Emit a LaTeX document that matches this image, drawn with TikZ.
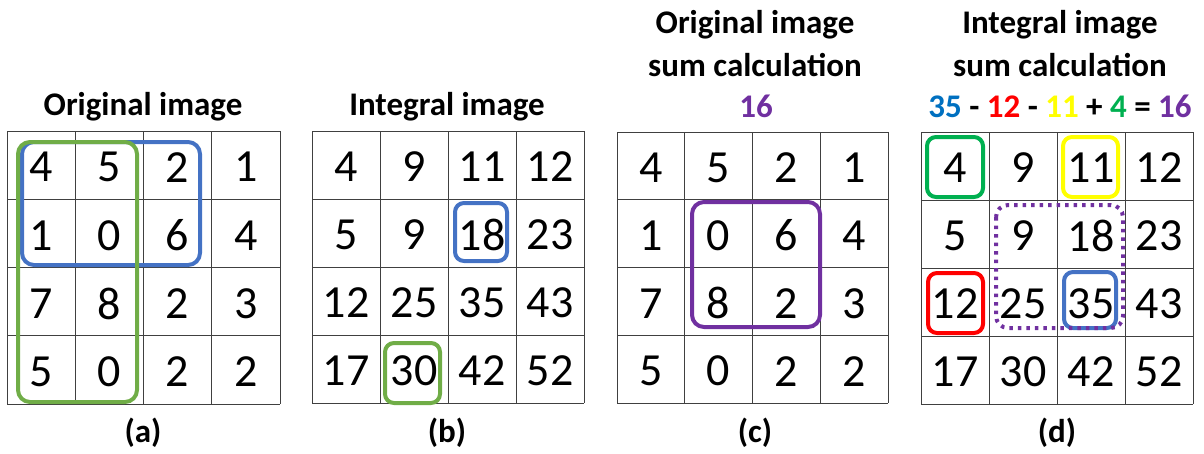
\documentclass[tikz,border=0pt]{standalone}
\usepackage{fontspec}
\setmainfont{Carlito}
\definecolor{oblue}{RGB}{68,114,196}
\definecolor{ogreen}{RGB}{112,173,71}
\definecolor{opurple}{RGB}{112,48,160}
\definecolor{tblue}{RGB}{0,112,192}
\definecolor{tgreen}{RGB}{0,176,80}
\definecolor{tred}{RGB}{255,0,0}
\definecolor{tyellow}{RGB}{255,255,0}
\begin{document}
\begin{tikzpicture}[x=1pt,y=-1pt,
  num/.style={font=\fontsize{46}{46}\selectfont, inner sep=0pt, anchor=center},
  ttl/.style={font=\fontsize{33}{35}\selectfont\bfseries, inner sep=0pt, anchor=center},
  gridline/.style={draw=black!75, line width=0.9pt},
  hl/.style={line width=4pt, rounded corners=12pt}]
\useasboundingbox (0,0) rectangle (1204,453);
% grid macro: prefix, x0, y0, cell, rows
\def\makegrid#1#2#3#4#5{%
  \foreach \k in {0,...,4}{
    \draw[gridline] ({#2+\k*#4},#3) -- ({#2+\k*#4},{#3+4*#4});
    \draw[gridline] (#2,{#3+\k*#4}) -- ({#2+4*#4},{#3+\k*#4});
  }
  \foreach \r/\vals in {#5}{
    \foreach \v [count=\c] in \vals {
      \node[num] (#1-\r-\c) at ({#2+(\c-0.5)*#4},{#3+(\r-0.5)*#4+2}) {\v};
    }
  }
}
\makegrid{a}{7}{131}{68.25}{1/{4,5,2,1},2/{1,0,6,4},3/{7,8,2,3},4/{5,0,2,2}}
\makegrid{b}{312}{131}{68}{1/{4,9,11,12},2/{5,9,18,23},3/{12,25,35,43},4/{17,30,42,52}}
\makegrid{c}{617}{132}{67.75}{1/{4,5,2,1},2/{1,0,6,4},3/{7,8,2,3},4/{5,0,2,2}}
\makegrid{d}{921}{132}{68}{1/{4,9,11,12},2/{5,9,18,23},3/{12,25,35,43},4/{17,30,42,52}}
% titles
\node[ttl] (ta) at (143,107) {Original image};
\node[ttl] (tb) at (447,107) {Integral image};
\node[ttl] (tc1) at (755,25) {Original image};
\node[ttl] (tc2) at (755,65) {sum calculation};
\node[ttl, text=opurple] (tc3) at (756,106) {16};
\node[ttl] (td1) at (1060,25) {Integral image};
\node[ttl] (td2) at (1060,65) {sum calculation};
\node[ttl] (td3) at (1060,106) {\textcolor{tblue}{35} - \textcolor{tred}{12} - \textcolor{tyellow}{11} + \textcolor{tgreen}{4} = \textcolor{opurple}{16}};
% captions
\node[ttl] (la) at (143,433) {(a)};
\node[ttl] (lb) at (447,433) {(b)};
\node[ttl] (lc) at (755,433) {(c)};
\node[ttl] (ld) at (1057,433) {(d)};
% highlight boxes
\draw[hl, oblue] (22,142) rectangle (200,265);
\draw[hl, ogreen] (18,142) rectangle (137,402);
\draw[hl, oblue, rounded corners=9pt] (455,203) rectangle (507,261);
\draw[hl, ogreen, rounded corners=9pt] (385,343) rectangle (440,403);
\draw[hl, opurple] (692,202) rectangle (820,327);
\draw[hl, tgreen, rounded corners=9pt] (927,137) rectangle (983,197);
\draw[hl, tyellow, rounded corners=9pt] (1063,137) rectangle (1118,197);
\draw[hl, tred, rounded corners=9pt] (928,273) rectangle (983,333);
\draw[hl, oblue, rounded corners=9pt] (1064,272) rectangle (1116,328);
\draw[line width=4pt, opurple, dash pattern=on 3.5pt off 5pt, rounded corners=12pt] (996,205) rectangle (1123,328);
\end{tikzpicture}
\end{document}
